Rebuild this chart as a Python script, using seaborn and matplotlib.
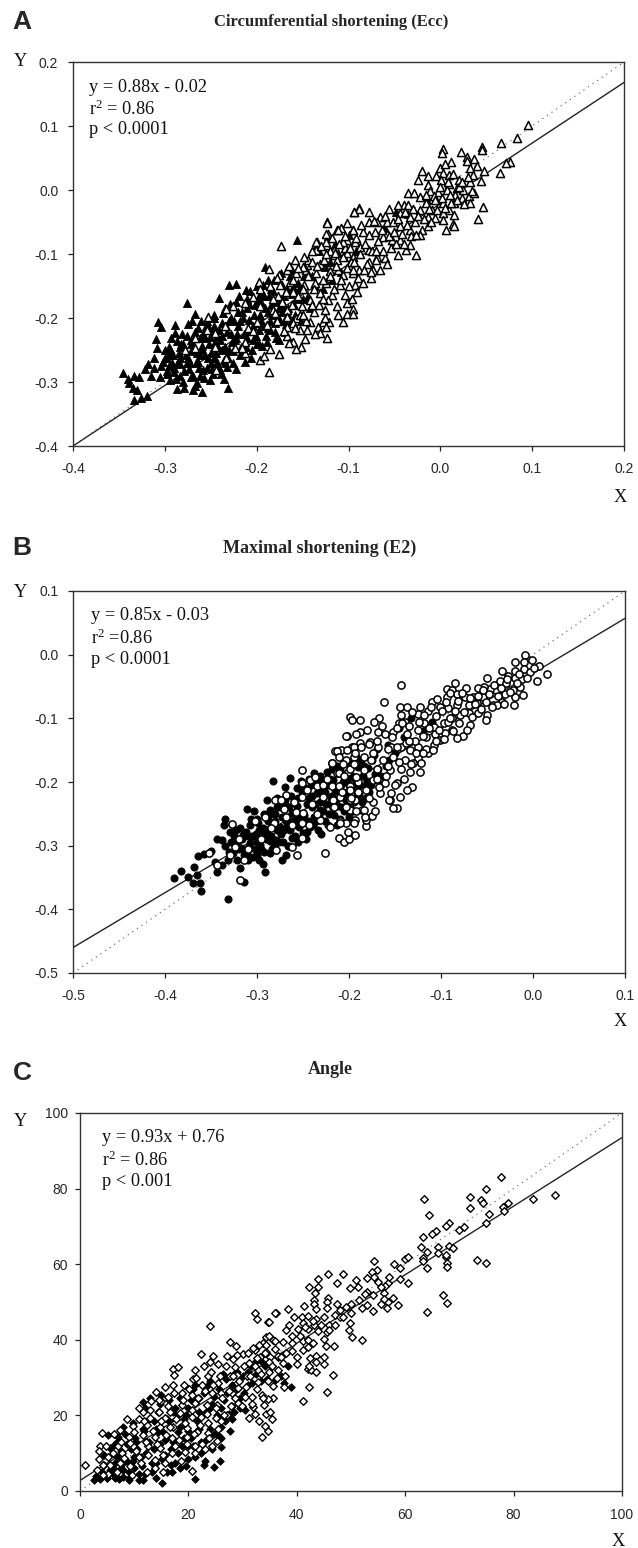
import seaborn as sns
import matplotlib.pyplot as plt
import pandas as pd

# panel A : points
a_filled = [(-0.346,-0.286),(-0.340,-0.296),(-0.334,-0.291),(-0.328,-0.292),(-0.339,-0.302),(-0.335,-0.310),(-0.330,-0.312),(-0.334,-0.328),(-0.326,-0.325),(-0.319,-0.322),
(-0.322,-0.280),(-0.318,-0.272),(-0.312,-0.262),(-0.310,-0.233),(-0.309,-0.247),(-0.307,-0.206),(-0.304,-0.214),(-0.289,-0.211),(-0.289,-0.224),(-0.276,-0.176),
(-0.267,-0.194),(-0.230,-0.148),(-0.223,-0.147),(-0.156,-0.078),(-0.241,-0.168),(-0.212,-0.156),(-0.191,-0.120),(-0.287,-0.311),(-0.279,-0.310),(-0.267,-0.307),
(-0.269,-0.313),(-0.260,-0.316),(-0.231,-0.309),(-0.236,-0.295),(-0.251,-0.297),(-0.294,-0.297),(-0.280,-0.300),(-0.265,-0.302),(-0.315,-0.290),(-0.305,-0.292),
(-0.312,-0.278),(-0.304,-0.275),(-0.298,-0.283),(-0.290,-0.285),(-0.283,-0.290),(-0.272,-0.292),(-0.262,-0.290),(-0.248,-0.287),(-0.240,-0.282),(-0.232,-0.276),
(-0.298,-0.262),(-0.296,-0.245),(-0.292,-0.270),(-0.285,-0.255),(-0.283,-0.272),(-0.282,-0.240),(-0.276,-0.228),(-0.275,-0.262),(-0.274,-0.280),(-0.268,-0.248),
(-0.266,-0.270),(-0.264,-0.215),(-0.262,-0.232),(-0.258,-0.282),(-0.256,-0.258),(-0.254,-0.205),(-0.252,-0.240),(-0.250,-0.270),(-0.248,-0.222),(-0.246,-0.195),
(-0.244,-0.255),(-0.242,-0.275),(-0.240,-0.235),(-0.238,-0.208),(-0.236,-0.265),(-0.234,-0.185),(-0.232,-0.222),(-0.230,-0.250),(-0.228,-0.200),(-0.226,-0.270),
(-0.224,-0.235),(-0.222,-0.175),(-0.220,-0.213),(-0.218,-0.258),(-0.216,-0.190),(-0.214,-0.225),(-0.212,-0.245),(-0.210,-0.170),(-0.208,-0.203),(-0.206,-0.262),
(-0.204,-0.235),(-0.202,-0.180),(-0.200,-0.150),(-0.198,-0.218),(-0.196,-0.195),(-0.194,-0.243),(-0.192,-0.165),(-0.190,-0.228),(-0.188,-0.140),(-0.186,-0.205),
(-0.184,-0.180),(-0.182,-0.158),(-0.180,-0.222),(-0.178,-0.195),(-0.176,-0.235),(-0.174,-0.170),(-0.172,-0.148),(-0.170,-0.205),(-0.166,-0.185),(-0.164,-0.135),
(-0.162,-0.162),(-0.158,-0.195),(-0.155,-0.145),(-0.150,-0.170),(-0.146,-0.115),(-0.142,-0.185),(-0.140,-0.135),(-0.132,-0.095),(-0.128,-0.155),(-0.120,-0.112),
(-0.115,-0.085),(-0.108,-0.128),(-0.100,-0.070),(-0.092,-0.095),(-0.122,-0.072),(-0.111,-0.098),(-0.060,-0.060),(-0.048,-0.035),(-0.035,-0.038),(-0.015,-0.015),
(-0.294,-0.258),(-0.287,-0.236),(-0.270,-0.205),(-0.258,-0.225),(-0.247,-0.262),(-0.238,-0.250),(-0.228,-0.225),(-0.220,-0.190),(-0.210,-0.232),(-0.200,-0.208),
(-0.195,-0.175),(-0.188,-0.215),(-0.180,-0.175),(-0.172,-0.190),(-0.163,-0.205),(-0.157,-0.170),(-0.272,-0.240),(-0.262,-0.258),(-0.252,-0.215),(-0.243,-0.228)]
a_filled_core = [(-0.302,-0.268),(-0.300,-0.250),(-0.298,-0.288),(-0.296,-0.275),(-0.293,-0.232),(-0.291,-0.258),(-0.288,-0.295),(-0.286,-0.268),(-0.284,-0.245),(-0.281,-0.225),
(-0.279,-0.283),(-0.277,-0.258),(-0.275,-0.210),(-0.273,-0.270),(-0.271,-0.235),(-0.269,-0.290),(-0.267,-0.222),(-0.265,-0.255),(-0.263,-0.278),(-0.261,-0.205),
(-0.259,-0.243),(-0.257,-0.293),(-0.255,-0.212),(-0.253,-0.262),(-0.251,-0.230),(-0.249,-0.280),(-0.247,-0.200),(-0.245,-0.238),(-0.243,-0.268),(-0.241,-0.218),
(-0.239,-0.288),(-0.237,-0.192),(-0.235,-0.245),(-0.233,-0.212),(-0.231,-0.262),(-0.229,-0.178),(-0.227,-0.238),(-0.225,-0.205),(-0.223,-0.280),(-0.221,-0.225),
(-0.219,-0.165),(-0.217,-0.245),(-0.215,-0.200),(-0.213,-0.268),(-0.211,-0.185),(-0.209,-0.220),(-0.207,-0.158),(-0.205,-0.250),(-0.203,-0.195),(-0.201,-0.228),
(-0.199,-0.172),(-0.197,-0.240),(-0.195,-0.205),(-0.193,-0.148),(-0.191,-0.185),(-0.189,-0.238),(-0.187,-0.165),(-0.185,-0.218),(-0.183,-0.195),(-0.181,-0.140),
(-0.179,-0.232),(-0.177,-0.168),(-0.175,-0.205),(-0.173,-0.130),(-0.171,-0.182),(-0.169,-0.222),(-0.167,-0.155),(-0.165,-0.198),(-0.161,-0.125),(-0.159,-0.180),
(-0.154,-0.155),(-0.152,-0.205),(-0.148,-0.135),(-0.144,-0.165),(-0.136,-0.150),(-0.126,-0.120),(-0.118,-0.140),(-0.105,-0.105),(-0.300,-0.262),(-0.294,-0.248),
(-0.290,-0.278),(-0.284,-0.262),(-0.280,-0.240),(-0.276,-0.270),(-0.272,-0.252),(-0.268,-0.232),(-0.264,-0.268),(-0.260,-0.250),(-0.256,-0.232),(-0.254,-0.278),
(-0.250,-0.255),(-0.246,-0.212),(-0.242,-0.245),(-0.238,-0.228),(-0.234,-0.270),(-0.230,-0.205),(-0.226,-0.252),(-0.222,-0.232),(-0.218,-0.205),(-0.214,-0.255),
(-0.208,-0.178),(-0.204,-0.212),(-0.200,-0.240),(-0.196,-0.162),(-0.192,-0.212),(-0.188,-0.190),(-0.184,-0.155),(-0.180,-0.208),(-0.176,-0.185),(-0.170,-0.165),
(-0.168,-0.210),(-0.160,-0.152)]
a_open = [(0.095,0.101),(0.083,0.081),(0.066,0.074),(0.076,0.043),(0.072,0.042),(0.065,0.026),(0.045,0.067),(0.045,0.062),(0.023,0.059),(0.003,0.064),
(0.002,0.058),(0.012,0.043),(0.037,0.048),(0.029,0.051),(0.029,0.046),(0.032,0.034),(0.040,0.037),(0.048,0.029),(0.036,0.023),(0.044,0.014),
(0.032,0.013),(-0.020,0.029),(-0.013,0.022),(-0.024,0.015),(0.000,0.035),(0.003,0.026),(0.009,0.023),(-0.005,0.022),(0.001,0.015),(0.009,0.010),
(0.020,0.016),(-0.013,0.008),(-0.035,-0.005),(-0.029,-0.005),(-0.022,-0.011),(-0.011,-0.001),(-0.002,-0.003),(0.007,0.000),(0.018,0.003),(0.025,0.000),
(0.016,-0.008),(0.031,-0.010),(0.037,-0.005),(0.024,-0.013),(0.032,-0.021),(0.047,-0.027),(0.041,-0.046),(0.014,-0.053),(0.006,-0.063),(0.015,-0.057),
(0.003,-0.020),(0.015,-0.021),(0.009,-0.031),(0.015,-0.039),(0.003,-0.036),(0.003,-0.047),(-0.007,-0.010),(-0.016,-0.021),(-0.022,-0.031),(-0.009,-0.031),
(-0.013,-0.042),(-0.006,-0.044),(-0.013,-0.057),(-0.020,-0.062),(-0.022,-0.070),(-0.033,-0.042),(-0.040,-0.023),(-0.046,-0.023),(-0.035,-0.023),(-0.056,-0.030),
(-0.089,-0.028),(-0.094,-0.035),(-0.078,-0.035),(-0.123,-0.050),(-0.113,-0.062),(-0.108,-0.060),(-0.044,-0.036),(-0.066,-0.042),(-0.078,-0.050),(-0.069,-0.050),
(-0.058,-0.050),(-0.044,-0.057),(-0.033,-0.062),(-0.037,-0.094),(-0.026,-0.102),(-0.046,-0.102),(-0.033,-0.086),(-0.044,-0.078),(-0.053,-0.078),(-0.062,-0.073),
(-0.071,-0.065),(-0.084,-0.065),(-0.095,-0.062),(-0.102,-0.078),(-0.122,-0.068),(-0.134,-0.081),(-0.136,-0.094),(-0.125,-0.086),(-0.060,-0.107),(-0.069,-0.104),
(-0.078,-0.094),(-0.087,-0.089),(-0.104,-0.091),(-0.116,-0.102),(-0.095,-0.104),(-0.078,-0.112),(-0.089,-0.125),(-0.073,-0.125),(-0.100,-0.117),(-0.111,-0.125),
(-0.131,-0.115),(-0.145,-0.117),(-0.075,-0.138),(-0.123,-0.051),(-0.174,-0.088),(-0.089,-0.029),(-0.094,-0.035),(-0.102,-0.052),(-0.111,-0.063),(-0.095,-0.063),
(-0.124,-0.068),(-0.135,-0.081),(-0.124,-0.081),(-0.106,-0.081),(-0.093,-0.081),(-0.135,-0.094),(-0.116,-0.094),(-0.102,-0.099),(-0.158,-0.109),(-0.144,-0.109),
(-0.127,-0.109),(-0.113,-0.109),(-0.097,-0.112),(-0.187,-0.124),(-0.167,-0.125),(-0.176,-0.133),(-0.157,-0.130),(-0.146,-0.125),(-0.135,-0.130),(-0.120,-0.127),
(-0.106,-0.133),(-0.095,-0.130),(-0.198,-0.143),(-0.178,-0.138),(-0.164,-0.143),(-0.149,-0.148),(-0.137,-0.146),(-0.124,-0.146),(-0.109,-0.148),(-0.093,-0.148),
(-0.196,-0.154),(-0.177,-0.166),(-0.160,-0.159),(-0.155,-0.166),(-0.131,-0.161),(-0.118,-0.164),(-0.104,-0.164),(-0.091,-0.159),(-0.233,-0.186),(-0.213,-0.177),
(-0.196,-0.182),(-0.182,-0.187),(-0.167,-0.187),(-0.151,-0.182),(-0.138,-0.190),(-0.126,-0.187),(-0.102,-0.177),(-0.095,-0.186),(-0.111,-0.195),(-0.102,-0.194),
(-0.095,-0.194),(-0.106,-0.206),(-0.121,-0.206),(-0.128,-0.206),(-0.133,-0.214),(-0.124,-0.214),(-0.131,-0.224),(-0.123,-0.232),(-0.145,-0.219),(-0.153,-0.219),
(-0.147,-0.233),(-0.167,-0.228),(-0.160,-0.238),(-0.152,-0.246),(-0.157,-0.249),(-0.165,-0.239),(-0.176,-0.257),(-0.186,-0.249),(-0.196,-0.266),(-0.187,-0.284),
(-0.192,-0.259),(-0.157,-0.200),(-0.167,-0.198),(-0.142,-0.206),(-0.167,-0.214),(-0.160,-0.208),(-0.253,-0.198),(-0.234,-0.212),(-0.245,-0.224),(-0.254,-0.219),
(-0.267,-0.232),(-0.267,-0.247),(-0.278,-0.250),(-0.245,-0.245),(-0.224,-0.247),(-0.213,-0.237),(-0.209,-0.215),(-0.200,-0.206),(-0.189,-0.211),(-0.213,-0.254),
(-0.233,-0.263),(-0.244,-0.281),(-0.204,-0.221),(-0.216,-0.247),(-0.180,-0.192),(-0.204,-0.167),(-0.226,-0.182),(-0.120,-0.095),(-0.150,-0.120),(-0.140,-0.112)]
a_open_core = [(-0.185,-0.150),(-0.182,-0.170),(-0.178,-0.205),(-0.175,-0.148),(-0.172,-0.175),(-0.170,-0.220),(-0.168,-0.160),(-0.165,-0.118),(-0.162,-0.180),(-0.160,-0.140),
(-0.158,-0.215),(-0.155,-0.122),(-0.153,-0.195),(-0.150,-0.155),(-0.148,-0.105),(-0.146,-0.205),(-0.144,-0.135),(-0.142,-0.172),(-0.140,-0.095),(-0.138,-0.155),
(-0.136,-0.225),(-0.134,-0.118),(-0.132,-0.180),(-0.130,-0.088),(-0.128,-0.140),(-0.126,-0.200),(-0.124,-0.100),(-0.122,-0.172),(-0.120,-0.135),(-0.118,-0.075),
(-0.116,-0.155),(-0.114,-0.118),(-0.112,-0.182),(-0.110,-0.085),(-0.108,-0.140),(-0.106,-0.105),(-0.104,-0.072),(-0.102,-0.122),(-0.100,-0.150),(-0.098,-0.090),
(-0.096,-0.170),(-0.094,-0.112),(-0.092,-0.075),(-0.090,-0.138),(-0.088,-0.100),(-0.086,-0.055),(-0.084,-0.145),(-0.082,-0.085),(-0.080,-0.115),(-0.078,-0.070),
(-0.076,-0.128),(-0.074,-0.095),(-0.072,-0.048),(-0.070,-0.110),(-0.068,-0.080),(-0.066,-0.125),(-0.064,-0.062),(-0.062,-0.095),(-0.060,-0.040),(-0.058,-0.115),
(-0.056,-0.072),(-0.054,-0.090),(-0.052,-0.050),(-0.050,-0.065),(-0.048,-0.085),(-0.046,-0.045),(-0.042,-0.068),(-0.040,-0.085),(-0.038,-0.035),(-0.036,-0.055),
(-0.032,-0.072),(-0.030,-0.030),(-0.028,-0.050),(-0.026,-0.070),(-0.024,-0.040),(-0.018,-0.045),(-0.016,-0.008),(-0.012,-0.030),(-0.010,-0.050),(-0.006,-0.015),
(-0.004,-0.032),(0.000,0.005),(0.002,-0.012),(0.005,-0.028),(0.008,0.012),(0.010,-0.008),(0.012,-0.020),(0.014,0.025),(0.018,-0.015),(0.020,0.005),
(0.024,0.012),(0.026,-0.022),(0.030,0.020),(0.034,-0.002),(0.005,0.040),(-0.140,-0.180),(-0.128,-0.170),(-0.150,-0.195),(-0.115,-0.098),(-0.095,-0.125),
(-0.083,-0.125),(-0.070,-0.095)]
a_fit_x = [-0.4, 0.2]
a_fit_y = [-0.4, 0.168]

# panel B
b_filled = [(-0.390,-0.350),(-0.383,-0.340),(-0.375,-0.349),(-0.368,-0.333),(-0.365,-0.346),(-0.370,-0.359),(-0.362,-0.358),(-0.361,-0.371),(-0.332,-0.384),(-0.314,-0.357),
(-0.291,-0.341),(-0.293,-0.329),(-0.318,-0.335),(-0.364,-0.316),(-0.358,-0.313),(-0.344,-0.290),(-0.338,-0.291),(-0.335,-0.258),(-0.336,-0.268),(-0.311,-0.243),
(-0.303,-0.245),(-0.283,-0.198),(-0.264,-0.193),(-0.270,-0.208),(-0.289,-0.229),(-0.350,-0.309),(-0.346,-0.325),(-0.338,-0.330),(-0.344,-0.341),(-0.329,-0.278),
(-0.318,-0.273),(-0.308,-0.268),(-0.322,-0.296),(-0.308,-0.296),(-0.297,-0.299),(-0.322,-0.322),(-0.311,-0.312),(-0.300,-0.315),(-0.286,-0.312),(-0.273,-0.322),
(-0.268,-0.315),(-0.279,-0.291),(-0.289,-0.275),(-0.275,-0.270),(-0.264,-0.275),(-0.260,-0.249),(-0.246,-0.234),(-0.235,-0.197),(-0.224,-0.184),(-0.238,-0.186),
(-0.257,-0.210),(-0.275,-0.239),(-0.286,-0.244),(-0.230,-0.281),(-0.242,-0.270),(-0.217,-0.239),(-0.217,-0.197),(-0.206,-0.223),(-0.195,-0.207),(-0.190,-0.176),
(-0.210,-0.181),(-0.231,-0.244),(-0.235,-0.218),(-0.330,-0.310),(-0.325,-0.285),(-0.317,-0.303),(-0.315,-0.283),(-0.310,-0.322),(-0.305,-0.285),(-0.302,-0.305),
(-0.298,-0.275),(-0.295,-0.290),(-0.292,-0.310),(-0.288,-0.262),(-0.285,-0.285),(-0.282,-0.300),(-0.280,-0.250),(-0.278,-0.275),(-0.272,-0.295),(-0.270,-0.228),
(-0.268,-0.262),(-0.265,-0.240),(-0.262,-0.288),(-0.258,-0.268),(-0.255,-0.225),(-0.253,-0.250),(-0.250,-0.280),(-0.248,-0.210),(-0.245,-0.262),(-0.243,-0.195),
(-0.240,-0.240),(-0.238,-0.255),(-0.234,-0.275),(-0.232,-0.212),(-0.229,-0.230),(-0.226,-0.262),(-0.224,-0.205),(-0.222,-0.250),(-0.220,-0.225),(-0.218,-0.180),
(-0.215,-0.212),(-0.212,-0.238),(-0.210,-0.258),(-0.207,-0.200),(-0.204,-0.170),(-0.202,-0.215),(-0.199,-0.240),(-0.197,-0.190),(-0.194,-0.225),(-0.192,-0.160),
(-0.188,-0.205),(-0.186,-0.232),(-0.184,-0.175),(-0.180,-0.198),(-0.178,-0.215),(-0.175,-0.165),(-0.172,-0.188),(-0.170,-0.148),(-0.166,-0.205),(-0.160,-0.175),
(-0.158,-0.142),(-0.150,-0.155),(-0.146,-0.115),(-0.140,-0.130),(-0.133,-0.100),(-0.120,-0.120),(-0.110,-0.105),(-0.200,-0.255),(-0.213,-0.268),(-0.298,-0.322),
(-0.265,-0.300),(-0.255,-0.295),(-0.300,-0.258),(-0.292,-0.250),(-0.278,-0.225),(-0.252,-0.198),(-0.228,-0.198),(-0.205,-0.245)]
b_filled_core = [(-0.335,-0.300),(-0.332,-0.322),(-0.328,-0.295),(-0.326,-0.312),(-0.323,-0.275),(-0.320,-0.305),(-0.316,-0.290),(-0.314,-0.315),(-0.312,-0.278),(-0.309,-0.300),
(-0.306,-0.258),(-0.304,-0.318),(-0.301,-0.282),(-0.299,-0.265),(-0.296,-0.305),(-0.294,-0.272),(-0.290,-0.290),(-0.287,-0.252),(-0.284,-0.305),(-0.281,-0.268),
(-0.278,-0.240),(-0.276,-0.295),(-0.273,-0.255),(-0.271,-0.275),(-0.269,-0.238),(-0.266,-0.300),(-0.263,-0.222),(-0.261,-0.262),(-0.259,-0.285),(-0.256,-0.238),
(-0.254,-0.270),(-0.251,-0.215),(-0.249,-0.252),(-0.247,-0.290),(-0.244,-0.225),(-0.241,-0.205),(-0.239,-0.268),(-0.237,-0.235),(-0.233,-0.255),(-0.231,-0.190),
(-0.228,-0.245),(-0.226,-0.215),(-0.223,-0.268),(-0.221,-0.195),(-0.219,-0.235),(-0.216,-0.252),(-0.213,-0.175),(-0.211,-0.215),(-0.208,-0.240),(-0.205,-0.190),
(-0.203,-0.228),(-0.200,-0.205),(-0.198,-0.170),(-0.196,-0.245),(-0.193,-0.195),(-0.191,-0.215),(-0.187,-0.165),(-0.185,-0.190),(-0.182,-0.225),(-0.179,-0.178),
(-0.176,-0.205),(-0.173,-0.158),(-0.169,-0.180),(-0.165,-0.190),(-0.156,-0.165),(-0.310,-0.285),(-0.300,-0.295),(-0.292,-0.282),(-0.286,-0.292),(-0.280,-0.262),
(-0.274,-0.282),(-0.268,-0.272),(-0.262,-0.248),(-0.258,-0.258),(-0.252,-0.262),(-0.246,-0.278),(-0.240,-0.222),(-0.236,-0.262),(-0.232,-0.232),(-0.225,-0.235),
(-0.218,-0.222),(-0.214,-0.228),(-0.209,-0.205),(-0.202,-0.195),(-0.195,-0.232),(-0.189,-0.220),(-0.181,-0.205)]
b_open = [(-0.009,0.000),(-0.010,-0.012),(-0.001,-0.008),(-0.020,-0.012),(-0.010,-0.023),(0.006,-0.018),(0.015,-0.030),(0.004,-0.041),(-0.003,-0.028),(0.001,-0.021),
(-0.020,-0.025),(-0.034,-0.026),(-0.050,-0.036),(-0.027,-0.034),(-0.020,-0.036),(-0.012,-0.039),(-0.036,-0.042),(-0.029,-0.045),(-0.014,-0.050),(-0.022,-0.055),
(-0.011,-0.063),(-0.020,-0.066),(-0.021,-0.079),(-0.034,-0.074),(-0.030,-0.061),(-0.040,-0.055),(-0.047,-0.054),(-0.053,-0.050),(-0.060,-0.053),(-0.085,-0.045),
(-0.094,-0.054),(-0.088,-0.055),(-0.073,-0.053),(-0.083,-0.062),(-0.074,-0.066),(-0.094,-0.066),(-0.065,-0.066),(-0.054,-0.066),(-0.043,-0.079),(-0.039,-0.079),
(-0.061,-0.076),(-0.070,-0.079),(-0.083,-0.079),(-0.092,-0.084),(-0.070,-0.092),(-0.060,-0.092),(-0.050,-0.095),(-0.051,-0.102),(-0.079,-0.095),(-0.088,-0.100),
(-0.068,-0.110),(-0.076,-0.128),(-0.083,-0.131),(-0.088,-0.118),(-0.096,-0.123),(-0.143,-0.047),(-0.162,-0.074),(-0.199,-0.098),(-0.197,-0.103),(-0.188,-0.102),
(-0.167,-0.100),(-0.173,-0.106),(-0.145,-0.082),(-0.137,-0.082),(-0.143,-0.095),(-0.123,-0.082),(-0.110,-0.075),(-0.101,-0.082),(-0.125,-0.093),(-0.114,-0.089),
(-0.105,-0.097),(-0.139,-0.105),(-0.146,-0.107),(-0.119,-0.108),(-0.108,-0.113),(-0.097,-0.108),(-0.202,-0.128),(-0.188,-0.121),(-0.168,-0.122),(-0.161,-0.124),
(-0.152,-0.121),(-0.137,-0.124),(-0.125,-0.118),(-0.116,-0.129),(-0.101,-0.134),(-0.108,-0.142),(-0.114,-0.155),(-0.125,-0.163),(-0.123,-0.184),(-0.134,-0.184),
(-0.132,-0.208),(-0.137,-0.212),(-0.145,-0.224),(-0.148,-0.241),(-0.155,-0.229),(-0.152,-0.241),(-0.175,-0.254),(-0.181,-0.269),(-0.186,-0.244),(-0.197,-0.145),
(-0.188,-0.139),(-0.177,-0.137),(-0.215,-0.151),(-0.209,-0.150),(-0.168,-0.145),(-0.154,-0.145),(-0.143,-0.145),(-0.134,-0.150),(-0.125,-0.145),(-0.195,-0.160),
(-0.184,-0.160),(-0.174,-0.155),(-0.163,-0.165),(-0.152,-0.160),(-0.139,-0.165),(-0.130,-0.170),(-0.219,-0.170),(-0.203,-0.165),(-0.213,-0.186),(-0.201,-0.184),
(-0.184,-0.181),(-0.170,-0.179),(-0.155,-0.181),(-0.143,-0.179),(-0.190,-0.200),(-0.174,-0.197),(-0.161,-0.202),(-0.148,-0.202),(-0.199,-0.207),(-0.181,-0.212),
(-0.166,-0.218),(-0.154,-0.218),(-0.210,-0.223),(-0.193,-0.228),(-0.174,-0.231),(-0.217,-0.239),(-0.199,-0.244),(-0.184,-0.244),(-0.210,-0.262),(-0.203,-0.265),
(-0.193,-0.260),(-0.181,-0.260),(-0.203,-0.128),(-0.251,-0.181),(-0.219,-0.170),(-0.213,-0.152),(-0.211,-0.160),(-0.226,-0.311),(-0.327,-0.266),(-0.352,-0.312),
(-0.319,-0.354),(-0.256,-0.314),(-0.262,-0.302),(-0.279,-0.307),(-0.251,-0.288),(-0.211,-0.288),(-0.205,-0.295),(-0.200,-0.289),(-0.193,-0.283),(-0.201,-0.278),
(-0.210,-0.265),(-0.195,-0.265),(-0.314,-0.322),(-0.344,-0.330),(-0.329,-0.314),(-0.302,-0.262),(-0.291,-0.255),(-0.282,-0.264),(-0.269,-0.220),(-0.280,-0.229),
(-0.274,-0.229),(-0.271,-0.243),(-0.268,-0.255),(-0.258,-0.247),(-0.250,-0.249),(-0.260,-0.231),(-0.251,-0.223),(-0.251,-0.202),(-0.242,-0.197),(-0.246,-0.213),
(-0.235,-0.207),(-0.237,-0.192),(-0.228,-0.223),(-0.217,-0.228),(-0.228,-0.205),(-0.219,-0.207),(-0.211,-0.207),(-0.211,-0.186),(-0.206,-0.171),(-0.199,-0.179),
(-0.195,-0.145),(-0.192,-0.192),(-0.199,-0.213),(-0.199,-0.228),(-0.192,-0.245),(-0.232,-0.259),(-0.244,-0.268),(-0.221,-0.270),(-0.251,-0.265),(-0.324,-0.302)]
b_open_core = [(-0.205,-0.190),(-0.202,-0.150),(-0.198,-0.225),(-0.195,-0.172),(-0.192,-0.125),(-0.190,-0.215),(-0.187,-0.145),(-0.183,-0.255),(-0.180,-0.118),(-0.178,-0.225),
(-0.176,-0.165),(-0.172,-0.245),(-0.170,-0.135),(-0.167,-0.208),(-0.164,-0.112),(-0.160,-0.190),(-0.158,-0.148),(-0.156,-0.228),(-0.153,-0.130),(-0.150,-0.205),
(-0.148,-0.115),(-0.146,-0.168),(-0.142,-0.108),(-0.140,-0.195),(-0.138,-0.138),(-0.135,-0.112),(-0.133,-0.172),(-0.131,-0.090),(-0.128,-0.135),(-0.127,-0.155),
(-0.124,-0.105),(-0.122,-0.170),(-0.120,-0.128),(-0.118,-0.095),(-0.116,-0.148),(-0.113,-0.115),(-0.111,-0.082),(-0.109,-0.150),(-0.107,-0.125),(-0.104,-0.070),
(-0.102,-0.118),(-0.099,-0.088),(-0.097,-0.132),(-0.095,-0.075),(-0.092,-0.105),(-0.090,-0.060),(-0.087,-0.120),(-0.085,-0.088),(-0.082,-0.072),(-0.080,-0.108),
(-0.077,-0.060),(-0.075,-0.090),(-0.072,-0.118),(-0.069,-0.068),(-0.066,-0.098),(-0.063,-0.078),(-0.060,-0.065),(-0.057,-0.085),(-0.054,-0.055),(-0.051,-0.075),
(-0.048,-0.062),(-0.045,-0.082),(-0.042,-0.048),(-0.038,-0.065),(-0.035,-0.052),(-0.032,-0.078),(-0.028,-0.038),(-0.025,-0.058),(-0.017,-0.044),(-0.015,-0.030),
(-0.006,-0.036),(-0.240,-0.235),(-0.235,-0.250),(-0.224,-0.195),(-0.216,-0.240),(-0.208,-0.215),(-0.203,-0.240),(-0.194,-0.155),(-0.178,-0.140),(-0.170,-0.195),
(-0.158,-0.175),(-0.148,-0.145),(-0.135,-0.135),(-0.120,-0.155),(-0.105,-0.135),(-0.090,-0.100),(-0.262,-0.268),(-0.285,-0.272),(-0.296,-0.290),(-0.310,-0.305),
(-0.320,-0.290)]
b_fit_x = [-0.5, 0.1]
b_fit_y = [-0.46, 0.057]

# panel C
c_filled = [(15.1,2.2),(21.2,3.1),(24.7,6.3),(25.9,8.0),(26.0,11.6),(18.5,6.0),(11.6,23.5),(39.0,27.4),(37.7,28.5),(38.4,33.1),
(36.0,29.4),(2.5,2.9),(3.7,3.1),(4.9,3.4),(6.5,3.4),(8.0,3.6),(9.2,3.8),(11.7,2.9),(16.9,5.1),(8.0,16.9),
(5.2,14.7),(6.2,12.2),(7.1,14.4),(4.5,7.0),(5.5,5.5),(6.8,9.0),(7.5,6.0),(8.6,12.5),(9.0,5.0),(9.8,8.0),
(10.2,14.0),(10.5,11.0),(10.8,4.5),(11.5,6.5),(11.8,16.0),(12.2,10.0),(12.8,13.0),(13.2,5.0),(13.6,18.5),(14.0,7.5),
(14.4,21.0),(14.8,12.5),(15.2,16.0),(15.6,9.5),(16.0,19.0),(16.4,24.0),(16.8,7.0),(17.2,13.0),(17.6,22.0),(18.0,10.0),
(18.4,17.0),(18.8,26.0),(19.2,14.0),(19.6,20.0),(20.0,8.5),(20.4,24.0),(20.8,12.0),(21.2,28.0),(21.6,16.0),(22.0,21.0),
(22.4,10.0),(22.8,26.0),(23.2,13.5),(23.6,18.0),(24.0,29.0),(24.4,23.0),(24.8,15.0),(25.2,20.0),(25.6,27.0),(26.0,17.0),
(26.5,24.0),(27.0,29.5),(27.5,20.5),(28.0,22.5),(28.5,31.0),(29.0,27.0),(29.5,24.5),(30.0,30.5),(31.0,28.0),(31.5,33.0),
(32.5,31.0),(33.5,34.0),(34.5,29.5),(35.5,33.0),(37.0,30.5),(30.5,21.5),(13.0,24.5),(15.0,25.5),(20.0,16.0),(23.0,8.0)]
c_filled_core = [(3.0,4.0),(4.0,5.0),(4.5,9.5),(5.0,3.5),(5.5,11.5),(6.0,4.5),(6.5,7.5),(6.8,13.0),(7.2,3.2),(7.6,10.5),
(8.0,5.5),(8.3,15.0),(8.6,8.0),(9.0,3.0),(9.4,11.0),(9.8,18.0),(10.0,6.0),(10.4,13.0),(10.8,2.8),(11.2,9.0),
(11.6,16.5),(12.0,4.5),(12.4,13.0),(12.8,19.0),(13.2,7.5),(13.6,11.0),(14.0,3.5),(14.4,15.5),(14.8,23.0),(15.2,8.5),
(15.6,13.5),(16.0,5.0),(16.4,18.5),(16.8,11.0),(17.2,21.0),(17.6,7.5),(18.0,15.5),(18.4,24.5),(18.8,12.0),(19.2,19.0),
(19.6,6.5),(20.0,22.0),(20.4,14.0),(20.8,27.0),(21.2,9.0),(21.6,18.5),(22.0,24.5),(22.4,13.0),(22.8,7.0),(23.2,21.0),
(23.6,28.0),(24.0,16.5),(24.4,11.0),(24.8,25.0),(25.2,19.5),(25.6,14.5),(26.0,22.0),(26.4,31.0),(26.8,18.5),(27.2,26.0),
(27.6,16.0),(28.0,28.0),(28.4,21.0),(29.0,31.5),(29.6,22.0),(30.2,26.0),(31.0,31.5),(31.8,28.5),(32.4,34.5),(33.4,29.0),
(34.2,33.0),(12.0,22.0),(14.0,16.5),(16.0,14.0),(18.0,20.0),(20.0,12.0),(22.0,16.5),(24.0,22.0),(26.0,14.0),(10.0,9.0),
(8.0,7.5),(6.0,6.0),(28.0,19.0)]
c_open = [(77.6,83.2),(74.9,79.8),(87.6,78.3),(83.5,77.2),(72.0,77.9),(73.9,77.0),(74.4,76.1),(78.9,76.3),(78.0,75.2),(78.2,74.2),
(72.0,75.0),(75.5,73.3),(74.9,70.8),(70.9,69.9),(63.5,77.2),(64.3,73.0),(68.0,70.8),(67.5,70.2),(65.6,68.8),(64.9,68.0),
(63.2,67.3),(63.0,64.5),(64.0,63.3),(66.0,64.6),(66.0,62.9),(68.1,64.8),(68.9,64.4),(67.5,62.0),(67.6,62.4),(67.8,60.4),
(67.7,59.3),(73.3,61.1),(74.9,60.2),(63.2,61.7),(63.2,60.8),(64.0,59.1),(60.0,61.4),(59.0,58.9),(59.0,56.1),(54.3,60.9),
(54.8,58.5),(53.8,58.0),(54.3,56.7),(53.0,56.4),(55.0,55.2),(56.9,55.0),(56.3,54.2),(51.0,55.8),(48.6,57.4),(45.7,57.4),
(44.0,56.0),(47.5,54.9),(44.0,53.9),(42.3,53.9),(43.4,52.5),(49.9,53.6),(51.2,53.9),(53.0,52.6),(54.0,51.9),(56.0,52.3),
(57.8,51.1),(56.9,50.1),(56.0,50.8),(55.5,49.5),(56.7,48.5),(58.7,49.2),(54.0,47.6),(53.0,49.2),(52.0,48.3),(50.0,49.5),
(49.1,48.8),(47.5,49.6),(45.8,51.1),(45.5,50.1),(45.6,48.5),(43.1,50.5),(43.1,49.4),(43.5,48.1),(41.3,49.0),(38.4,48.1),
(36.1,47.2),(32.2,47.0),(32.7,45.4),(34.6,44.8),(41.0,45.9),(42.1,46.4),(43.5,45.5),(45.0,46.1),(47.0,46.6),(47.9,46.1),
(48.6,46.0),(49.8,44.5),(41.1,44.4),(40.3,42.9),(42.1,42.8),(44.0,42.3),(45.5,42.0),(49.6,42.6),(50.1,40.8),(52.1,39.9),
(39.1,41.1),(39.1,39.1),(41.1,39.8),(42.1,39.9),(43.0,39.1),(45.0,40.1),(45.4,38.4),(46.8,38.4),(41.1,37.3),(42.1,38.2),
(40.0,35.4),(42.4,35.2),(43.5,35.8),(43.5,34.2),(45.0,35.5),(67.0,51.9),(67.8,49.8),(64.0,47.4),(45.9,43.9),(43.2,43.9),
(34.4,40.8),(35.7,39.9),(36.6,35.5),(33.8,39.1),(32.3,37.3),(34.4,36.9),(33.2,35.5),(35.1,35.5),(1.0,6.9),(24.0,43.7),
(36.0,47.0),(34.8,44.8),(17.1,32.2),(18.0,32.7),(17.4,30.7),(22.3,36.2),(27.7,39.5),(28.8,38.4),(21.2,32.0),(20.9,29.6),
(24.6,35.7),(24.0,34.2),(22.8,33.1),(27.1,35.6),(28.3,34.9),(25.5,33.6),(30.1,36.3),(32.0,37.8),(34.8,41.0),(36.0,39.8),
(34.4,38.7),(39.1,37.0),(40.0,33.6),(41.1,23.7),(42.3,27.4),(45.6,26.1),(46.6,30.7),(42.1,32.2),(42.6,31.9),(43.5,31.4),
(42.3,33.1),(45.1,33.6),(33.5,14.2),(34.6,16.0),(34.1,17.3),(35.4,19.1),(33.0,18.5),(34.3,20.4),(31.1,19.4),(32.3,20.4),
(34.0,22.8),(35.7,24.5),(32.0,22.3),(34.6,24.3),(33.5,25.4),(31.7,25.0),(37.6,27.4),(35.7,27.8),(37.8,30.4),(36.6,32.0),
(37.5,33.8),(36.6,35.6),(34.8,31.6),(32.9,32.0),(34.8,34.2),(32.6,35.1),(31.1,33.8),(28.6,32.9),(28.9,30.7),(30.8,30.3),
(32.9,28.9),(29.2,27.2),(30.5,25.0),(28.0,25.9),(29.2,23.2),(27.7,30.3),(25.5,28.5),(23.7,30.3),(22.5,28.1),(19.1,28.1),
(17.2,28.1),(15.6,27.4),(14.1,26.1),(13.1,23.9),(15.0,23.7),(16.3,25.0),(18.8,25.9),(20.6,25.4),(24.3,25.9),(26.1,25.9),
(23.4,22.8),(25.2,22.8),(21.2,23.2),(18.8,22.8),(16.6,21.0),(14.5,21.0),(11.7,20.8),(10.8,19.0),(13.0,19.2),(15.7,19.2),
(18.5,20.6),(20.6,19.7),(22.4,19.7),(25.0,19.2),(23.7,17.9),(26.1,18.4),(27.1,20.1),(9.8,17.2),(12.3,17.5),(14.8,17.0),
(17.2,17.0),(19.7,16.6),(23.7,15.3),(21.5,15.7),(4.0,15.3),(7.4,16.2),(9.0,14.4),(11.7,14.8),(13.8,14.4),(16.9,14.0),
(19.7,14.4),(25.2,13.1),(24.3,11.9),(23.1,11.1),(21.2,11.8),(21.2,10.0),(3.7,11.9),(3.5,10.7),(7.1,11.8),(9.8,11.8),
(12.6,11.8),(14.8,11.3),(17.5,11.8),(19.4,10.4),(5.2,9.1),(7.7,10.0),(10.8,9.1),(13.8,8.2),(4.3,6.9),(7.4,7.3),
(9.2,6.5),(3.1,5.6),(5.2,4.5),(12.3,5.1),(15.4,5.1),(20.6,5.4),(15.7,7.3),(70.0,69.0),(60.5,55.0),(38.0,42.5)]
c_open_core = [(3.5,8.5),(4.2,4.2),(4.8,12.0),(5.5,7.0),(6.0,10.0),(6.3,15.0),(6.8,5.0),(7.5,13.0),(8.2,8.8),(8.6,19.0),
(9.2,12.8),(9.6,4.2),(10.0,15.5),(10.4,10.5),(10.8,22.0),(11.2,7.5),(11.8,18.5),(12.2,13.0),(12.6,9.5),(13.0,21.5),
(13.4,16.0),(13.8,6.0),(14.2,12.5),(14.6,24.0),(15.0,18.5),(15.4,9.5),(15.8,14.8),(16.2,22.5),(16.6,17.0),(17.0,10.0),
(17.4,26.0),(17.8,19.0),(18.2,13.5),(18.6,8.0),(19.0,24.0),(19.4,18.0),(19.8,12.5),(20.2,27.0),(20.6,21.5),(21.0,15.0),
(21.4,30.0),(21.8,24.5),(22.2,17.5),(22.6,12.5),(23.0,26.5),(23.4,20.5),(23.8,14.0),(24.2,31.5),(24.6,28.0),(25.0,22.0),
(25.4,16.5),(25.8,30.5),(26.2,24.5),(26.6,20.0),(27.0,33.0),(27.4,26.5),(27.8,22.5),(28.2,30.5),(28.6,24.5),(29.0,36.0),
(29.4,29.0),(29.8,22.5),(30.2,33.0),(30.6,27.5),(31.0,36.5),(31.4,30.5),(31.8,23.0),(32.2,33.0),(32.6,27.0),(33.0,38.5),
(33.4,31.0),(33.8,24.5),(34.2,36.5),(34.6,29.0),(35.0,21.0),(35.4,33.0),(36.0,37.5),(36.4,30.0),(37.0,35.5),(37.4,39.5),
(38.0,36.5),(38.5,44.0),(39.5,46.0),(40.5,41.0),(41.5,43.5),(43.0,45.0),(44.5,44.0),(46.0,42.5),(47.0,44.0),(48.0,48.0),
(50.0,47.0),(51.5,50.5),(52.5,52.0),(55.5,54.0),(57.0,56.5),(58.0,60.0),(60.5,62.0)]
c_fit_x = [0, 100]
c_fit_y = [2.8, 93.5]

W, H = 638, 1548
sns.set_style("ticks")
plt.rcParams['font.family'] = ['Liberation Serif', 'DejaVu Serif']
plt.rcParams['mathtext.fontset'] = 'custom'
plt.rcParams['mathtext.rm'] = 'Liberation Serif'
plt.rcParams['mathtext.default'] = 'regular'

fig = plt.figure(figsize=(W / 100, H / 100), dpi=100)


def frame(left, right, top, bottom):
    return fig.add_axes([left / W, 1 - bottom / H, (right - left) / W, (bottom - top) / H])


def panel(ax, filled, opened, marker, fit_x, fit_y, lim_x, lim_y, xticks, yticks, size, edge, fmt, xpad, ypad):
    lo = pd.DataFrame(filled, columns=['x', 'y'])
    hi = pd.DataFrame(opened, columns=['x', 'y'])
    sns.scatterplot(data=lo, x='x', y='y', marker=marker, color='black', s=size, linewidth=0.6, edgecolor='black', ax=ax, zorder=3)
    sns.lineplot(x=fit_x, y=fit_y, color='#222222', lw=1, sort=False, errorbar=None, ax=ax, zorder=2)
    sns.lineplot(x=lim_x, y=lim_x, color='#555555', lw=0.8, linestyle=(0, (1, 4)), sort=False, errorbar=None, ax=ax, zorder=2)
    sns.scatterplot(data=hi, x='x', y='y', marker=marker, color='white', s=size, linewidth=edge, edgecolor='black', ax=ax, zorder=4)
    ax.set_xlim(lim_x)
    ax.set_ylim(lim_y)
    ax.set_xticks(xticks)
    ax.set_yticks(yticks)
    ax.set_xticklabels([fmt(t) for t in xticks], family='Liberation Sans', fontsize=10)
    ax.set_yticklabels([fmt(t) for t in yticks], family='Liberation Sans', fontsize=10)
    ax.tick_params(axis='x', length=3.6, width=0.9, pad=xpad, color='#222222')
    ax.tick_params(axis='y', length=3.6, width=0.9, pad=ypad, color='#222222')
    ax.set_xlabel('')
    ax.set_ylabel('')
    for s in ax.spines.values():
        s.set_linewidth(1)
        s.set_color('#333333')


def one(t):
    return f'{t:.1f}'


def whole(t):
    return str(t)


ax_a = frame(73, 624, 62, 446)
panel(ax_a, a_filled + a_filled_core, a_open + a_open_core, '^', a_fit_x, a_fit_y, [-0.4, 0.2], [-0.4, 0.2],
      [-0.4, -0.3, -0.2, -0.1, 0.0, 0.1, 0.2], [-0.4, -0.3, -0.2, -0.1, 0.0, 0.1, 0.2], 34, 1.1, one, 8, 7)
ax_b = frame(73, 625, 591, 973)
panel(ax_b, b_filled + b_filled_core, b_open + b_open_core, 'o', b_fit_x, b_fit_y, [-0.5, 0.1], [-0.5, 0.1],
      [-0.5, -0.4, -0.3, -0.2, -0.1, 0.0, 0.1], [-0.5, -0.4, -0.3, -0.2, -0.1, 0.0, 0.1], 27, 1.1, one, 8, 7)
ax_c = frame(80, 622, 1113, 1491)
panel(ax_c, c_filled + c_filled_core, c_open + c_open_core, 'D', c_fit_x, c_fit_y, [0, 100], [0, 100],
      [0, 20, 40, 60, 80, 100], [0, 20, 40, 60, 80, 100], 15, 1.0, whole, 8.5, 5)


def put(px, py, s, **kw):
    fig.text(px / W, 1 - py / H, s, va='center', **kw)


serif = dict(fontsize=13.2, family='Liberation Serif', color='#111111')
for py, s in [(22, 'A'), (548, 'B'), (1073, 'C')]:
    put(22, py, s, fontsize=19, fontweight='bold', family='Liberation Sans', ha='center')
put(331, 22, 'Circumferential shortening (Ecc)', fontsize=12, fontweight='bold', family='Liberation Serif', ha='center')
put(320, 548, 'Maximal shortening (E2)', fontsize=13, fontweight='bold', family='Liberation Serif', ha='center')
put(330, 1070, 'Angle', fontsize=13, fontweight='bold', family='Liberation Serif', ha='center')

for px, py in [(20, 62), (20, 593), (20, 1121)]:
    put(px, py, 'Y', ha='center', **serif)
for px, py in [(620, 498), (620, 1021), (618, 1542)]:
    put(px, py, 'X', ha='center', **serif)

put(89, 87, 'y = 0.88x - 0.02', ha='left', **serif)
put(89, 109, 'r$^2$ = 0.86', ha='left', **serif)
put(89, 130, 'p < 0.0001', ha='left', **serif)
put(91, 616, 'y = 0.85x - 0.03', ha='left', **serif)
put(91, 638, 'r$^2$ =0.86', ha='left', **serif)
put(91, 660, 'p < 0.0001', ha='left', **serif)
put(102, 1137, 'y = 0.93x + 0.76', ha='left', **serif)
put(102, 1160, 'r$^2$ = 0.86', ha='left', **serif)
put(102, 1181, 'p < 0.001', ha='left', **serif)

plt.savefig('out.png', dpi=100)
